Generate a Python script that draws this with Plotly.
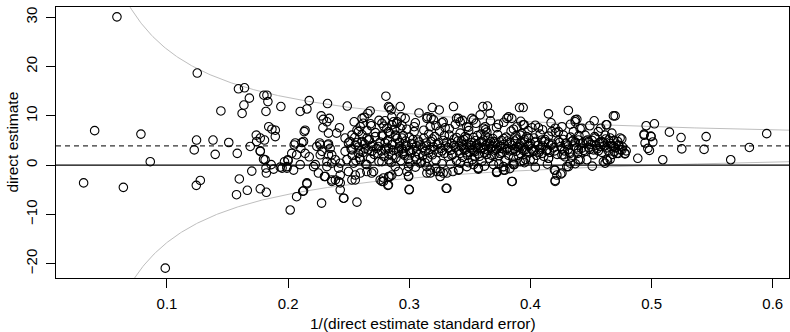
import numpy as np
import plotly.graph_objects as go

# ---- data: (1/SE, estimate) ----
sparse_left = [
    (0.0587, 30.1), (0.0403, 7.0), (0.0785, 6.3), (0.0862, 0.7), (0.0312, -3.6),
    (0.0640, -4.5), (0.0986, -20.9),
    (0.125, 18.7), (0.159, 15.5), (0.164, 15.7), (0.168, 13.6), (0.1635, 12.2),
    (0.162, 10.5), (0.1445, 11.0), (0.180, 14.2), (0.1825, 14.2), (0.1833, 12.9),
    (0.1817, 10.9), (0.194, 11.9), (0.1244, 5.1), (0.138, 5.1), (0.151, 4.6),
    (0.1737, 6.1), (0.177, 5.5), (0.1805, 5.1), (0.1687, 3.8), (0.184, 7.8),
    (0.1866, 7.3), (0.1894, 7.1), (0.1894, 5.8), (0.174, 4.8),
    (0.1225, 3.1), (0.1398, 2.2), (0.158, 2.4), (0.177, 2.9), (0.1797, 1.2),
    (0.170, -1.2), (0.182, -1.6), (0.1817, -0.6), (0.1242, -4.1), (0.1275, -3.1),
    (0.1597, -2.8), (0.1574, -6.0), (0.1663, -5.1), (0.177, -4.8), (0.182, -5.5),
    (0.186, 0.1), (0.188, -0.8), (0.1935, -0.4), (0.197, 0.7), (0.1998, 1.1),
    (0.195, -0.6), (0.199, -0.6), (0.181, 1.1), (0.177, 2.8),
]

mid_spread = [
    (0.2017, -9.1), (0.2276, -7.7), (0.2568, -7.5), (0.246, -6.7), (0.2999, -4.9),
    (0.3304, -4.7), (0.385, -3.3), (0.207, -6.4), (0.212, -5.3), (0.2155, -3.8),
    (0.243, -5.0), (0.243, -3.6), (0.236, -3.0), (0.2823, -4.1), (0.2774, -3.3),
    (0.284, -2.3), (0.2994, -2.2), (0.3145, -1.6), (0.3255, -2.3), (0.328, -1.6),
    (0.336, -1.3), (0.357, -0.8), (0.372, -1.5), (0.379, -1.0), (0.3866, 0.1),
    (0.2807, 14.0), (0.2174, 13.1), (0.210, 10.9), (0.2155, 11.4), (0.2325, 12.5),
    (0.2488, 12.0), (0.2273, 10.0), (0.229, 9.3), (0.234, 9.5), (0.232, 8.8),
    (0.2287, 7.6), (0.2424, 7.6), (0.2333, 6.5), (0.240, 6.5), (0.214, 7.1),
    (0.2133, 6.8), (0.2545, 8.8), (0.261, 9.5), (0.2628, 9.7), (0.2677, 11.0),
    (0.2658, 10.5), (0.2686, 8.0), (0.2828, 11.9), (0.285, 11.2), (0.2925, 11.9),
    (0.280, 9.0), (0.2856, 9.8), (0.290, 8.8), (0.2933, 9.8), (0.2925, 7.5),
    (0.2837, 11.7), (0.2774, 8.5), (0.2815, 7.5), (0.2856, 8.2), (0.2897, 8.5),
    (0.294, 8.0), (0.2966, 9.5), (0.262, 8.5), (0.2568, 7.1), (0.2595, 7.8),
    (0.205, 4.1), (0.2114, 4.6), (0.2105, 3.4), (0.203, 2.4), (0.207, 2.1),
    (0.200, 0.9), (0.214, 2.4), (0.2174, 1.7), (0.2237, 3.8), (0.226, 4.5),
    (0.2328, 4.1), (0.2279, 2.8), (0.2333, 2.1), (0.2389, 1.1), (0.2224, 0.1),
    (0.232, -0.3), (0.236, 0.4), (0.199, -0.3), (0.2045, -1.0), (0.210, 0.1),
    (0.247, 5.5), (0.2526, 6.1), (0.258, 6.8), (0.265, 7.1), (0.2498, 4.5),
    (0.2554, 4.1), (0.261, 4.8), (0.2663, 5.1), (0.2719, 5.8), (0.2774, 6.1),
    (0.2828, 6.8), (0.2884, 6.1), (0.294, 5.5), (0.247, 2.8), (0.2526, 3.1),
    (0.258, 2.4), (0.2636, 3.4), (0.269, 2.8), (0.2746, 3.8), (0.280, 3.1),
    (0.2856, 4.1), (0.291, 3.4), (0.2952, 2.8), (0.2485, 1.1), (0.254, 0.4),
    (0.2595, 1.1), (0.265, 0.1), (0.2705, -1.3), (0.2554, -2.0), (0.2526, -3.0),
    (0.2774, 0.7), (0.283, 1.1), (0.2884, -0.3), (0.291, -1.3), (0.2856, -2.0),
    (0.2787, -3.3), (0.2828, -4.0), (0.2416, -0.6), (0.243, -2.0), (0.239, -3.0),
    (0.225, -1.6), (0.230, -2.3), (0.236, -3.3), (0.2155, -3.6), (0.2127, -5.2),
    (0.2457, -6.7), (0.2059, 4.5), (0.2127, 4.8), (0.2265, 4.1), (0.2333, 4.3),
    (0.221, -0.3), (0.2306, -2.3), (0.2416, -3.3), (0.232, 0.7), (0.2265, 2.1),
    (0.236, 2.1), (0.2347, 3.4), (0.243, 0.4), (0.2498, -1.3), (0.2554, -3.0),
    (0.2595, -1.6), (0.265, -1.3), (0.269, -1.6), (0.276, -3.0), (0.2787, -2.6),
    (0.283, -2.3), (0.298, -1.3), (0.2994, -0.3), (0.3007, 0.4), (0.306, 1.1),
    (0.3145, -0.3), (0.3173, -1.0), (0.3228, -1.3), (0.331, -1.6), (0.342, 0.4),
    (0.3475, -0.3), (0.353, 0.1), (0.357, -0.6), (0.3695, 0.1), (0.3723, -1.3),
    (0.3777, -0.3), (0.386, 0.4),
]

upper_band = [
    (0.3365, 11.9), (0.319, 11.7), (0.3247, 11.2), (0.308, 10.6), (0.3607, 11.9),
    (0.3645, 12.0), (0.391, 11.7), (0.315, 9.8), (0.320, 9.2), (0.328, 8.8),
    (0.304, 7.8), (0.3296, 7.6), (0.3406, 9.5), (0.3516, 9.5), (0.3585, 10.2),
    (0.3667, 10.5), (0.3736, 8.3), (0.3819, 9.8), (0.3846, 9.5), (0.3888, 7.8),
    (0.3475, 7.8), (0.3612, 7.5), (0.3145, 9.5), (0.3173, 7.8), (0.3269, 8.6),
    (0.339, 9.5), (0.342, 8.8), (0.353, 9.2), (0.3626, 7.8), (0.3805, 9.5),
    (0.3948, 8.2), (0.394, 11.7), (0.4149, 10.4), (0.4313, 11.1), (0.4383, 9.3),
    (0.4369, 8.8), (0.4526, 9.0), (0.4685, 10.0), (0.463, 8.2), (0.394, 8.2),
    (0.4012, 7.6), (0.4066, 7.6), (0.4204, 7.5), (0.4231, 6.8), (0.4272, 6.1),
    (0.4177, 6.8), (0.4355, 6.8), (0.4424, 7.5), (0.4451, 6.1), (0.456, 6.8),
    (0.4617, 6.1), (0.4672, 6.5), (0.437, 9.2),
    (0.268, 8.4), (0.275, 9.1), (0.279, 7.9), (0.287, 8.8), (0.298, 7.3),
    (0.305, 8.6), (0.312, 7.1), (0.318, 9.6), (0.322, 8.0), (0.333, 7.4),
    (0.338, 8.3), (0.344, 9.1), (0.349, 7.7), (0.355, 8.5), (0.363, 7.2),
    (0.367, 9.0), (0.372, 7.6), (0.378, 8.7), (0.386, 7.3), (0.392, 8.9),
    (0.398, 7.0), (0.404, 8.1), (0.410, 7.2), (0.417, 8.6), (0.426, 7.8),
    (0.433, 8.3), (0.441, 7.4), (0.449, 8.0), (0.458, 7.5),
]

core = [
    (0.251, 4.8), (0.253, 2.0), (0.255, 5.6), (0.256, 0.9), (0.258, 3.7), (0.259, 1.6),
    (0.261, 6.2), (0.262, 2.6), (0.263, 4.3), (0.264, 0.2), (0.266, 3.1), (0.267, 5.2),
    (0.268, 1.3), (0.270, 4.0), (0.271, 2.2), (0.272, 6.6), (0.273, 3.4), (0.275, 0.7),
    (0.276, 4.7), (0.277, 2.9), (0.278, 5.9), (0.279, 1.8),
    (0.281, 3.6), (0.282, 5.0), (0.283, 2.3), (0.284, 6.4), (0.285, 0.5), (0.286, 4.2),
    (0.287, 3.0), (0.288, 7.2), (0.289, 1.5), (0.290, 5.4), (0.291, 2.7), (0.292, 4.6),
    (0.293, 0.9), (0.294, 3.3), (0.295, 6.0), (0.296, 2.0), (0.297, 4.9), (0.298, 3.8),
    (0.299, 1.2), (0.300, 5.7), (0.301, 2.5), (0.302, 4.4), (0.303, 3.1), (0.304, 6.8),
    (0.305, 1.7), (0.306, 3.9), (0.307, 5.1), (0.308, 2.2), (0.309, 4.1), (0.310, 0.6),
    (0.311, 3.5), (0.312, 5.5), (0.313, 2.8), (0.314, 4.5), (0.315, 1.4), (0.316, 6.3),
    (0.317, 3.2), (0.318, 4.8), (0.319, 2.1), (0.320, 3.7), (0.321, 5.8), (0.322, 1.0),
    (0.323, 4.2), (0.324, 2.6), (0.325, 6.9), (0.326, 3.4), (0.327, 0.3), (0.328, 5.0),
    (0.329, 2.4), (0.330, 3.9), (0.331, 4.7), (0.332, 1.8), (0.333, 6.1), (0.334, 3.0),
    (0.335, 4.4), (0.336, 2.2), (0.337, 5.3), (0.338, 3.6), (0.339, 0.9), (0.340, 4.9),
    (0.341, 2.9), (0.342, 6.5), (0.343, 3.8), (0.344, 1.6), (0.345, 5.2), (0.346, 3.1),
    (0.347, 4.3), (0.348, 2.0), (0.349, 7.0), (0.350, 3.5), (0.351, 4.6), (0.352, 1.1),
    (0.353, 5.6), (0.354, 2.7), (0.355, 3.9), (0.356, 6.0), (0.357, 2.3), (0.358, 4.5),
    (0.359, 3.3), (0.360, 0.8), (0.361, 5.1), (0.362, 2.5), (0.363, 4.0), (0.364, 6.7),
    (0.365, 3.0), (0.366, 1.4), (0.367, 4.8), (0.368, 3.7), (0.369, 5.4), (0.370, 2.1),
    (0.343, 4.9), (0.347, 2.5), (0.352, 3.2), (0.356, 4.1), (0.361, 3.6), (0.365, 5.5),
    (0.369, 3.9), (0.346, 5.8), (0.354, 1.9), (0.359, 6.3),
    (0.371, 4.4), (0.372, 3.2), (0.373, 6.2), (0.374, 1.9), (0.375, 3.8), (0.376, 5.0),
    (0.377, 2.6), (0.378, 4.2), (0.379, 0.9), (0.380, 5.7), (0.381, 3.4), (0.382, 2.0),
    (0.383, 4.6), (0.384, 6.9), (0.385, 3.1), (0.386, 1.5), (0.387, 4.9), (0.388, 2.8),
    (0.389, 5.3), (0.390, 3.6), (0.391, 4.1), (0.392, 2.3), (0.393, 6.4), (0.394, 3.0),
    (0.395, 4.7), (0.396, 1.2), (0.397, 5.8), (0.398, 3.9), (0.399, 2.5), (0.400, 4.4),
    (0.401, 3.3), (0.403, 5.5), (0.405, 2.0), (0.406, 4.0), (0.408, 6.3), (0.409, 3.6),
    (0.411, 1.8), (0.412, 4.8), (0.413, 3.0), (0.415, 5.9), (0.416, 2.6), (0.418, 4.3),
    (0.419, 3.5), (0.421, 6.6), (0.422, 2.2), (0.424, 4.6), (0.425, 3.8), (0.427, 5.2),
    (0.428, 2.9), (0.430, 4.1), (0.431, 3.2), (0.433, 5.7), (0.434, 1.6), (0.436, 3.9),
    (0.437, 4.7), (0.439, 2.4), (0.440, 6.0), (0.442, 3.4),
    (0.443, 4.5), (0.445, 2.8), (0.447, 5.1), (0.448, 3.6), (0.450, 4.2), (0.452, 2.1),
    (0.453, 5.8), (0.455, 3.3), (0.457, 4.6), (0.459, 2.6), (0.461, 3.9), (0.462, 5.3),
    (0.464, 3.0), (0.466, 4.4), (0.468, 2.2), (0.470, 3.5), (0.472, 4.8), (0.474, 3.1),
    (0.476, 3.7), (0.479, 2.9),
    (0.305, -0.4), (0.313, 0.5), (0.322, -0.6), (0.334, 0.2), (0.341, -0.9), (0.349, 0.5),
    (0.362, -0.2), (0.374, 0.3), (0.383, -0.7), (0.395, 0.5), (0.404, -0.4), (0.414, 0.2),
    (0.437, 0.3), (0.451, -0.2),
]

core_extra = [
    (0.252, 3.3), (0.257, 4.6), (0.260, 2.9), (0.265, 5.5), (0.269, 3.8), (0.274, 2.4),
    (0.280, 4.5), (0.283, 3.4), (0.286, 1.9), (0.289, 5.9), (0.292, 3.7), (0.295, 2.3),
    (0.297, 4.0), (0.300, 3.0), (0.303, 5.2), (0.306, 2.8), (0.308, 4.7), (0.311, 1.9),
    (0.314, 3.9), (0.316, 2.5), (0.319, 5.3), (0.321, 3.1), (0.324, 4.5), (0.327, 2.9),
    (0.329, 6.0), (0.332, 3.5), (0.335, 2.0), (0.337, 4.0), (0.339, 5.6), (0.342, 2.4),
    (0.344, 4.1), (0.345, 3.3), (0.348, 5.5), (0.350, 2.6), (0.351, 4.0), (0.353, 3.0),
    (0.355, 5.0), (0.357, 3.6), (0.358, 1.8), (0.360, 4.7), (0.362, 3.2), (0.363, 5.9),
    (0.364, 2.2), (0.366, 4.3), (0.367, 3.4), (0.368, 2.0), (0.370, 4.8), (0.371, 3.0),
    (0.373, 4.1), (0.375, 2.4), (0.376, 3.4), (0.378, 5.4), (0.380, 3.1), (0.381, 4.9),
    (0.383, 2.9), (0.385, 4.0), (0.387, 3.3), (0.388, 6.0), (0.390, 2.0), (0.392, 4.5),
    (0.393, 3.4), (0.395, 5.2), (0.397, 2.7), (0.399, 4.0), (0.402, 3.0), (0.404, 4.6),
    (0.407, 2.6), (0.410, 3.9), (0.412, 5.2), (0.414, 3.1), (0.417, 4.0), (0.420, 2.9),
    (0.423, 4.9), (0.426, 3.3), (0.429, 4.4), (0.432, 2.6), (0.435, 5.0), (0.438, 3.5),
    (0.441, 4.3), (0.444, 3.0), (0.446, 4.9), (0.449, 3.2), (0.451, 5.0), (0.454, 4.0),
    (0.456, 2.9), (0.460, 4.6), (0.463, 3.5), (0.467, 4.0), (0.469, 5.0), (0.473, 4.0),
]

lower_right = [
    (0.3915, 6.1), (0.3984, 5.5), (0.404, 4.8), (0.4094, 5.1), (0.4149, 4.5),
    (0.4342, 4.8), (0.4396, 5.1), (0.448, 4.8), (0.4534, 5.5), (0.4589, 4.8),
    (0.4644, 5.1), (0.3888, 3.8), (0.3956, 3.1), (0.4025, 2.8), (0.408, 3.1),
    (0.4149, 1.4), (0.426, 2.1), (0.4286, 1.7), (0.4328, 2.4), (0.4396, 1.1),
    (0.4465, 1.1), (0.4602, 0.7), (0.463, 1.1), (0.4693, 2.8), (0.4204, -1.0),
    (0.4218, -2.0), (0.426, -1.6), (0.4204, -3.3), (0.4313, -0.3), (0.3915, 0.7),
    (0.3998, 1.1), (0.4204, -3.1), (0.4198, -1.0), (0.425, -1.8), (0.430, -0.3),
    (0.4328, 0.4), (0.4616, 0.4), (0.4636, 0.9), (0.441, 1.1), (0.394, 0.9),
    (0.4025, 1.1), (0.4094, 2.4), (0.415, 1.4), (0.4274, 2.1), (0.4396, 3.1),
    (0.452, 3.1), (0.4575, 3.8), (0.4658, 3.8), (0.4726, 2.4), (0.478, 2.3),
    (0.3723, -1.4), (0.357, -0.6), (0.3406, -1.0), (0.3255, -1.3), (0.3173, -1.6),
    (0.309, 0.4), (0.386, 0.1), (0.3777, -1.0), (0.331, -4.7), (0.300, -5.0),
    (0.3846, -3.3), (0.2994, -2.3),
]

right_tail = [
    (0.4699, 10.0), (0.4955, 8.0), (0.5023, 8.4), (0.5147, 6.7), (0.5243, 5.6),
    (0.545, 5.8), (0.595, 6.4), (0.4938, 6.3), (0.4993, 5.9), (0.501, 4.7),
    (0.4946, 4.5), (0.4969, 3.4), (0.4982, 3.0), (0.5249, 3.3), (0.5433, 3.2),
    (0.5807, 3.6), (0.5092, 1.1), (0.5653, 1.1), (0.4886, 1.4), (0.4658, 5.5),
    (0.4754, 5.3), (0.4726, 4.1), (0.4685, 3.8), (0.4781, 2.4), (0.4713, 2.4),
    (0.4754, 3.1), (0.4658, 1.2), (0.474, 5.5), (0.4938, 6.1), (0.4996, 5.8),
    (0.4625, 8.2),
]

pooled_estimate = 3.9   # dashed reference line
z_crit = 1.96           # funnel limits: pooled +/- z / precision

x_ticks = [0.1, 0.2, 0.3, 0.4, 0.5, 0.6]
x_labels = ["0.1", "0.2", "0.3", "0.4", "0.5", "0.6"]
y_ticks = [-20, -10, 0, 10, 20, 30]
y_labels = ["\u221220", "\u221210", "0", "10", "20", "30"]

all_pts = sparse_left + mid_spread + upper_band + core + core_extra + lower_right + right_tail
precision = [p[0] for p in all_pts]
estimate = [p[1] for p in all_pts]

x_range = [0.0084, 0.6134]
y_range = [-22.9, 32.1]

grid = np.linspace(0.004, 0.62, 600)
upper = pooled_estimate + z_crit / grid
lower = pooled_estimate - z_crit / grid

fig = go.Figure()
fig.add_trace(go.Scatter(x=grid, y=upper, mode="lines",
                         line=dict(color="#bebebe", width=1), hoverinfo="skip"))
fig.add_trace(go.Scatter(x=grid, y=lower, mode="lines",
                         line=dict(color="#bebebe", width=1), hoverinfo="skip"))
fig.add_trace(go.Scatter(x=x_range, y=[0, 0], mode="lines",
                         line=dict(color="black", width=1.2), hoverinfo="skip"))
fig.add_trace(go.Scatter(x=x_range, y=[pooled_estimate, pooled_estimate], mode="lines",
                         line=dict(color="#333333", width=1.2, dash="5px,4px"),
                         hoverinfo="skip"))
fig.add_trace(go.Scatter(x=precision, y=estimate, mode="markers",
                         marker=dict(symbol="circle-open", size=8.5,
                                     color="black", line=dict(width=1.1, color="black"))))

font = dict(family="Liberation Sans, Arial, Helvetica, sans-serif", size=15, color="black")
title_font = dict(family="Liberation Sans, Arial, Helvetica, sans-serif", size=15.5, color="black")

fig.update_layout(
    width=790, height=332,
    margin=dict(l=56, r=1, t=7, b=54),
    paper_bgcolor="white", plot_bgcolor="white",
    showlegend=False,
    font=font,
    annotations=[
        dict(text="1/(direct estimate standard error)", xref="paper", yref="paper",
             x=0.5, y=0, xanchor="center", yanchor="middle", yshift=-45,
             showarrow=False, font=title_font),
        dict(text="direct estimate", xref="paper", yref="paper",
             x=0, y=0.5, xanchor="center", yanchor="middle", xshift=-44,
             textangle=-90, showarrow=False, font=title_font),
    ],
)
fig.update_xaxes(
    range=x_range, tickvals=x_ticks, ticktext=x_labels,
    showgrid=False, zeroline=False, showline=True, mirror=True, automargin=False,
    linecolor="black", linewidth=1, ticks="outside", ticklen=9, tickcolor="black",
    tickfont=font, ticklabelstandoff=3,
)
fig.update_yaxes(
    range=y_range, tickvals=y_ticks, ticktext=y_labels,
    showgrid=False, zeroline=False, showline=True, mirror=True, automargin=False,
    linecolor="black", linewidth=1, ticks="outside", ticklen=9, tickcolor="black",
    tickfont=font, tickangle=-90, ticklabelstandoff=3,
)

fig.write_html(
    "out.html",
    config={"displayModeBar": False, "staticPlot": True},
    post_script="document.body.style.margin='0';document.body.style.overflow='hidden';",
)
